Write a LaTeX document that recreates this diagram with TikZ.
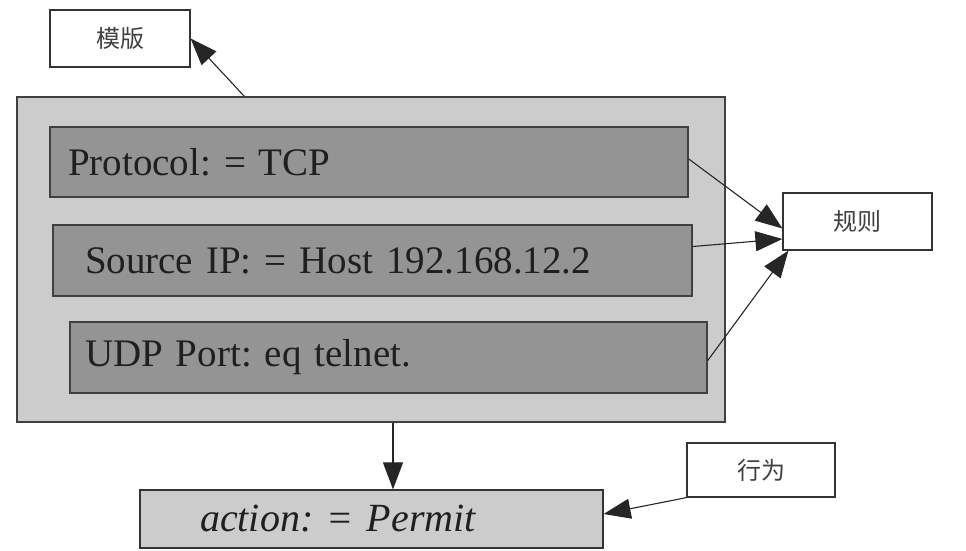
\documentclass[tikz,border=0pt]{standalone}
\usepackage{fontspec}
\setmainfont{Liberation Serif}
\newfontfamily\cjk{Noto Sans CJK SC}
\usetikzlibrary{arrows.meta,calc}
\frenchspacing
\begin{document}
\begin{tikzpicture}[x=1pt,y=-1pt,
  lbl/.style={draw=black!80, fill=white, line width=1.2pt, inner sep=0pt,
    font=\cjk\fontsize{24}{28}\selectfont, text=black!75},
  outerbox/.style={draw=black!75, fill=black!20, line width=1.5pt, inner sep=0pt},
  rulebox/.style={draw=black!75, fill=black!42, line width=1.5pt, inner ysep=0pt,
    align=left, font=\frenchspacing\fontsize{39}{44}\selectfont, text=black!88},
  arr/.style={line width=1.1pt, draw=black!85, -{Triangle[length=27pt,width=20pt]}}]
\useasboundingbox (0,0) rectangle (966,550);
\fill[white] (0,0) rectangle (966,550);

% boxes
\node[lbl, minimum width=140pt, minimum height=57pt] (tpl) at (120,38.5) {模版};
\node[outerbox, minimum width=708pt, minimum height=325pt] (outer) at (371,259.5) {};
\node[rulebox, minimum height=70pt, inner xsep=18pt, text width=602pt] (r1) at (369,162) {Protocol: = TCP};
\node[rulebox, minimum height=71pt, inner xsep=32pt, text width=575pt] (r2) at (372.5,260.5) {Source IP: = Host 192.168.12.2};
\node[rulebox, minimum height=71pt, inner xsep=15pt, text width=607pt] (r3) at (388.5,357.5) {UDP Port: eq telnet.};
\node[lbl, minimum width=149pt, minimum height=57pt] (rule) at (857.5,221.5) {规则};
\node[lbl, minimum width=148pt, minimum height=54pt] (beh) at (761,470) {行为};
\node[draw=black!80, fill=black!20, line width=1.2pt, minimum height=58pt, inner ysep=0pt,
  inner xsep=60pt, text width=343pt, align=left,
  font=\frenchspacing\itshape\fontsize{40}{44}\selectfont,
  text=black!88] (action) at (371.5,519) {action: = Permit};

% connectors
\draw[arr] ($(outer.north west)+(228,0)$) -- (tpl.east);
\draw[arr] ($(r1.east)+(0,-3)$) -- ($(rule.south west)!0.38!(rule.north west)$);
\draw[arr] ($(r2.east)+(0,-14)$) -- ($(rule.south west)!0.2!(rule.north west)$);
\draw[arr] ($(r3.east)+(0,3)$) -- ($(rule.south west)+(6,0)$);
\draw[arr] ($(outer.south)+(22,0)$) -- ($(action.north)+(21.5,0)$);
\draw[arr] (beh.south west) -- ($(action.east)+(0,-5)$);
\end{tikzpicture}
\end{document}
